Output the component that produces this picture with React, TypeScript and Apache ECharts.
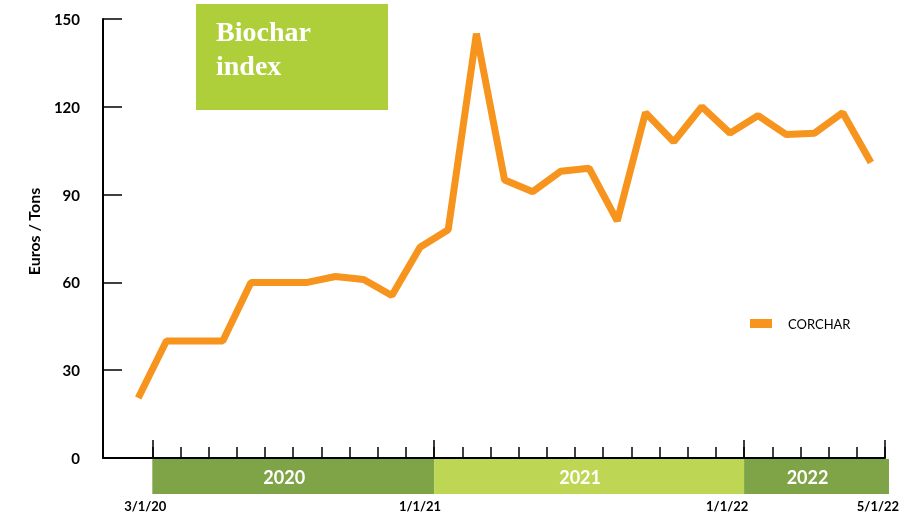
import React, { useEffect, useRef } from 'react';
import * as echarts from 'echarts';

// Monthly observations, Mar 2020 .. May 2022
const months = [
  'Mar 20', 'Apr 20', 'May 20', 'Jun 20', 'Jul 20', 'Aug 20', 'Sep 20', 'Oct 20', 'Nov 20', 'Dec 20',
  'Jan 21', 'Feb 21', 'Mar 21', 'Apr 21', 'May 21', 'Jun 21', 'Jul 21', 'Aug 21', 'Sep 21', 'Oct 21', 'Nov 21', 'Dec 21',
  'Jan 22', 'Feb 22', 'Mar 22', 'Apr 22', 'May 22',
];
const corchar = [20.5, 40, 40, 40, 60, 60, 60, 62, 61, 55.5, 72, 78, 145, 95, 91, 98, 99, 81, 118, 108, 120, 111, 117, 110.5, 111, 118, 101];

const yMax = 150;
const yStep = 30;

const dateLabels = ['3/1/20', '1/1/21', '1/1/22', '5/1/22'];
const dateLabelAt = [0.25, 10, 20.9, 26.25];
const majorTickAt = [0.5, 10.5, 21.5, 26.5];

const years = ['2020', '2021', '2022'];
const yearFrom = [0.5, 10.5, 21.5];
const yearTo = [10.5, 21.5, 26.65];
const yearColors = ['#7FA447', '#BDD755', '#7FA447'];

export default function App() {
  const ref = useRef<HTMLDivElement>(null);
  useEffect(() => {
    const chart = echarts.init(ref.current!, null, { renderer: 'svg' });
    const X_MIN = -1.25;
    const X_MAX = 26.5;
    const minorTicks = months.map((_, i) => i + 0.5);
    chart.setOption({
      animation: false,
      textStyle: { fontFamily: 'Lato' },
      grid: [
        { left: 103, right: 28, top: 19, bottom: 59 },
        { left: 103, right: 24, top: 459, height: 35 },
      ],
      xAxis: [
        {
          type: 'value', gridIndex: 0, min: X_MIN, max: X_MAX, position: 'bottom',
          axisLine: { show: true, onZero: false, lineStyle: { color: '#000', width: 2 } },
          axisTick: { show: true, inside: true, length: 11, customValues: minorTicks, lineStyle: { color: '#000', width: 1.5 } },
          axisLabel: {
            show: true, customValues: dateLabelAt,
            formatter: (v: number) => { const k = dateLabelAt.indexOf(v); return k >= 0 ? dateLabels[k] : ''; },
            margin: 41, fontWeight: 'bold', fontSize: 13, color: '#000', fontFamily: 'Lato',
          },
          splitLine: { show: false },
        },
        {
          type: 'value', gridIndex: 0, min: X_MIN, max: X_MAX, position: 'bottom',
          axisLine: { show: false, onZero: false },
          axisTick: { show: true, inside: true, length: 18, customValues: majorTickAt, lineStyle: { color: '#000', width: 1.5 } },
          axisLabel: { show: false },
          splitLine: { show: false },
        },
        {
          type: 'value', gridIndex: 1, min: X_MIN, max: X_MAX + (X_MAX - X_MIN) * 4 / 782, show: false,
        },
      ],
      yAxis: [
        {
          type: 'value', gridIndex: 0, min: 0, max: yMax, interval: yStep,
          name: 'Euros / Tons', nameLocation: 'middle', nameGap: 62, nameRotate: 90,
          nameTextStyle: { fontWeight: 'bold', fontSize: 16, color: '#000', fontFamily: 'Lato', padding: [0, 0, 0, 14] },
          axisLine: { show: true, onZero: false, lineStyle: { color: '#000', width: 2 } },
          axisTick: { show: true, inside: true, length: 19, lineStyle: { color: '#000', width: 1.5 } },
          axisLabel: { margin: 23, fontWeight: 'bold', fontSize: 15, color: '#000', fontFamily: 'Lato' },
          splitLine: { show: false },
        },
        { type: 'value', gridIndex: 1, min: 0, max: 1, show: false },
      ],
      legend: {
        data: ['CORCHAR'], left: 745, top: 312, icon: 'rect', itemWidth: 22, itemHeight: 9,
        textStyle: { fontFamily: 'Lato', fontSize: 13, color: '#000', padding: [0, 0, 0, 11] },
      },
      graphic: [
        { type: 'rect', shape: { x: 196, y: 4, width: 192, height: 106 }, style: { fill: '#AFCF3A' } },
        {
          type: 'text', x: 216, y: 14,
          style: { text: 'Biochar\nindex', fill: '#fff', fontSize: 28, fontWeight: 'bold', fontFamily: 'Liberation Serif', lineHeight: 34, verticalAlign: 'top' },
        },
      ],
      series: [
        {
          type: 'line', name: 'CORCHAR', xAxisIndex: 0, yAxisIndex: 0,
          data: corchar.map((v, i) => [i, v]),
          symbol: 'none',
          lineStyle: { color: '#F7941D', width: 7, join: 'bevel', cap: 'butt' },
          itemStyle: { color: '#F7941D' },
        },
        {
          type: 'line', name: 'years', xAxisIndex: 2, yAxisIndex: 1, data: [],
          markArea: {
            silent: true,
            label: { show: true, position: 'inside', color: '#fff', fontWeight: 'bold', fontSize: 18, fontFamily: 'Lato', offset: [-9, 0] },
            data: years.map((y, i) => [
              { xAxis: yearFrom[i], name: y, itemStyle: { color: yearColors[i], opacity: 1 } },
              { xAxis: yearTo[i] },
            ]),
          },
        },
      ],
    });
    return () => chart.dispose();
  }, []);
  return <div ref={ref} style={{ position: 'fixed', left: 0, top: 0, width: 913, height: 517 }} />;
}
